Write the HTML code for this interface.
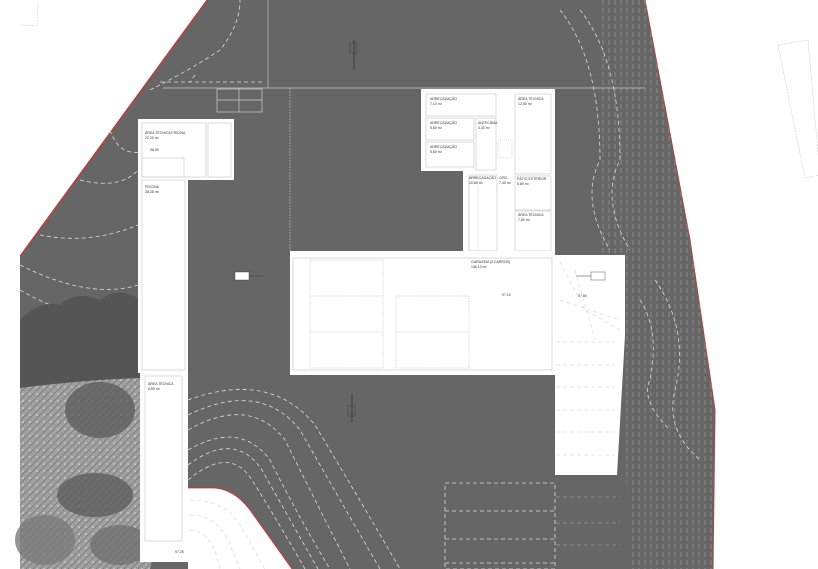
<!DOCTYPE html>
<html><head><meta charset="utf-8"><style>
html,body{margin:0;padding:0;background:#fff;width:818px;height:569px;overflow:hidden}
svg{display:block}
text{font-family:"Liberation Sans",sans-serif;font-size:3.5px;fill:#333}
.w{fill:#fff}
.c{fill:none;stroke:#ddd;stroke-width:0.8;stroke-dasharray:4 3}
.r{fill:none;stroke:#ccc;stroke-width:0.7}
</style></head><body>
<svg width="818" height="569" viewBox="0 0 818 569" xmlns="http://www.w3.org/2000/svg">
<defs>
<pattern id="vd" width="6" height="8" patternUnits="userSpaceOnUse">
<rect width="6" height="8" fill="#666"/><line x1="3" y1="0" x2="3" y2="5" stroke="#b5b5b5" stroke-width="0.45"/>
</pattern>
<pattern id="tr" width="7" height="7" patternUnits="userSpaceOnUse">
<rect width="7" height="7" fill="#a0a0a0"/><path d="M0 7L7 0" stroke="#777" stroke-width="0.8"/><circle cx="2" cy="2" r="1" fill="#c4c4c4"/>
</pattern>
</defs>
<polygon points="207,0 645,0 690,240 715,410 713,569 20,569 20,256" fill="#666"/>
<polyline points="207,0 20,256" stroke="#e22" stroke-width="1" fill="none"/>
<polyline points="645,0 690,240 715,410 713,569" stroke="#e22" stroke-width="1" fill="none"/>
<polygon points="556,0 645,0 690,240 715,410 713,569 632,569 620,380 625,255 556,255" fill="url(#vd)"/>
<polygon points="556,0 600,0 600,255 556,255" fill="#666"/>
<path d="M560 10 Q600 60 600 160 Q580 200 610 250" class="c"/>
<path d="M580 10 Q620 60 620 160 Q600 200 630 250" class="c"/>
<path d="M640 300 Q660 330 650 380 Q640 400 670 430" class="c"/>
<path d="M655 280 Q690 330 675 390 Q665 430 700 460" class="c"/>
<polygon points="778,45 808,40 820,175 805,178" fill="none" stroke="#ccc" stroke-width="0.6" stroke-dasharray="2 1"/>
<path d="M20 25 L37 26 L38 3" fill="none" stroke="#ccc" stroke-width="0.6" stroke-dasharray="2 1"/>
<path d="M150 90 Q190 70 220 50 Q240 25 240 0" class="c"/>
<path d="M110 130 Q120 160 150 150" class="c"/>
<path d="M80 180 Q120 190 138 170" class="c"/>
<path d="M40 235 Q90 245 138 225" class="c"/>
<path d="M20 265 Q90 300 138 285" class="c"/>
<path d="M20 290 Q90 330 138 310" class="c"/>
<path d="M20 320 Q90 350 138 335" class="c"/>
<path d="M160 82 L262 82 M195 75 L190 82" class="c"/>
<path d="M188 450 Q240 420 270 460 Q300 520 330 569" class="c"/>
<path d="M188 465 Q235 430 262 470 Q290 520 318 569" class="c"/>
<path d="M188 480 Q230 445 252 480 Q280 525 305 569" class="c"/>
<path d="M188 430 Q250 395 285 440 Q320 510 350 569" class="c"/>
<path d="M188 415 Q260 380 300 430 Q340 500 380 569" class="c"/>
<path d="M188 400 Q270 370 315 425 Q360 500 400 569" class="c"/>
<line x1="163" y1="88" x2="645" y2="88" stroke="#ccc" stroke-width="0.8"/>
<line x1="268" y1="0" x2="268" y2="88" stroke="#bbb" stroke-width="0.7"/>
<line x1="290" y1="88" x2="290" y2="251" stroke="#bbb" stroke-width="0.7" stroke-dasharray="2 1"/>
<rect x="217" y="89" width="45" height="23" class="r"/>
<line x1="217" y1="100" x2="262" y2="100" class="r"/><line x1="239" y1="89" x2="239" y2="112" class="r"/>
<path d="M20 320 Q40 300 60 305 Q75 290 100 300 Q120 285 140 300 L140 569 L20 569 Z" fill="#555"/>
<path d="M20 388 Q80 380 140 378 L150 400 Q160 440 150 480 Q165 520 150 569 L20 569 Z" fill="url(#tr)"/>
<ellipse cx="100" cy="410" rx="35" ry="28" fill="#5e5e5e" opacity="0.8"/>
<ellipse cx="95" cy="495" rx="38" ry="22" fill="#5e5e5e" opacity="0.8"/>
<ellipse cx="45" cy="540" rx="30" ry="25" fill="#7a7a7a" opacity="0.8"/>
<ellipse cx="120" cy="545" rx="30" ry="20" fill="#707070" opacity="0.8"/>
<path d="M188 488 L215 488 Q235 490 250 510 L292 569 L188 569 Z" class="w"/>
<path d="M188 488 L215 488 Q235 490 250 510 L292 569" stroke="#e22" stroke-width="0.8" fill="none"/>
<path d="M190 500 Q225 500 240 525 L265 569" class="c"/>
<path d="M190 515 Q215 515 228 540 L240 569" class="c"/>
<path d="M190 530 Q205 530 215 550 L220 569" class="c"/>
<rect x="138" y="119" width="96" height="61" class="w"/>
<rect x="138" y="180" width="50" height="193" class="w"/>
<rect x="140" y="373" width="48" height="189" class="w"/>
<rect x="142" y="123" width="64" height="54" class="r"/>
<rect x="208" y="123" width="23" height="54" class="r"/>
<rect x="142" y="158" width="42" height="19" class="r"/>
<rect x="142" y="180" width="43" height="190" class="r"/>
<rect x="145" y="376" width="37" height="165" class="r"/>
<text x="145" y="134">ÁREA TÉCNICA PISCINA</text><text x="145" y="139">22,20 m²</text>
<text x="150" y="151">96.90</text>
<text x="145" y="188">PISCINA</text><text x="145" y="193">38,28 m²</text>
<text x="148" y="385">ÁREA TÉCNICA</text><text x="148" y="390">6,50 m²</text>
<text x="175" y="553">97.25</text>
<rect x="421" y="89" width="134" height="82" class="w"/>
<rect x="463" y="89" width="92" height="162" class="w"/>
<rect x="426" y="94" width="70" height="22" class="r"/>
<rect x="426" y="118" width="48" height="22" class="r"/>
<rect x="426" y="142" width="48" height="25" class="r"/>
<rect x="476" y="118" width="20" height="52" class="r"/>
<rect x="515" y="94" width="36" height="80" class="r"/>
<rect x="515" y="176" width="36" height="34" class="r"/>
<rect x="515" y="211" width="36" height="40" class="r"/>
<rect x="469" y="175" width="28" height="76" class="r"/>
<rect x="469" y="178" width="9" height="73" fill="none" stroke="#aaa" stroke-width="0.4" stroke-dasharray="1 1"/>
<rect x="498" y="140" width="14" height="18" fill="none" stroke="#aaa" stroke-width="0.4" stroke-dasharray="1 1"/>
<text x="430" y="100">ARRECADAÇÃO</text><text x="430" y="105">7,10 m²</text>
<text x="430" y="124">ARRECADAÇÃO</text><text x="430" y="129">5,80 m²</text>
<text x="430" y="148">ARRECADAÇÃO</text><text x="430" y="153">5,80 m²</text>
<text x="478" y="124">ANTECÂMA</text><text x="478" y="129">4,30 m²</text>
<text x="518" y="100">ÁREA TÉCNICA</text><text x="518" y="105">12,80 m²</text>
<text x="517" y="180">PÁTIO EXTERIOR</text><text x="517" y="185">5,80 m²</text>
<text x="518" y="216">ÁREA TÉCNICA</text><text x="518" y="221">7,80 m²</text>
<text x="469" y="179">ARRECADAÇÃO</text><text x="469" y="184">10,80 m²</text>
<text x="499" y="179">CIRC.</text><text x="499" y="184">7,40 m²</text>
<rect x="290" y="251" width="265" height="124" class="w"/>
<rect x="293" y="258" width="259" height="112" class="r"/>
<g fill="none" stroke="#bbb" stroke-width="0.5" stroke-dasharray="1.5 1">
<rect x="310" y="260" width="73" height="108"/><line x1="310" y1="296" x2="383" y2="296"/><line x1="310" y1="332" x2="383" y2="332"/>
<rect x="396" y="296" width="73" height="72"/><line x1="396" y1="332" x2="469" y2="332"/>
</g>
<text x="471" y="263">GARAGEM (3 CARROS)</text><text x="471" y="268">136,10 m²</text>
<text x="502" y="296">97.10</text>
<polygon points="555,255 625,255 625,335 617,475 555,475" class="w"/>
<path d="M560 262 L585 310 L620 330 M575 270 L595 340 M560 300 L620 320" class="c" stroke="#ccc"/>
<g class="c" stroke="#bbb">
<line x1="556" y1="342" x2="615" y2="342"/><line x1="556" y1="365" x2="615" y2="365"/><line x1="556" y1="387" x2="615" y2="387"/>
<line x1="556" y1="410" x2="615" y2="410"/><line x1="556" y1="432" x2="615" y2="432"/><line x1="556" y1="455" x2="615" y2="455"/>
</g>
<text x="578" y="297">97.80</text>
<g class="c" stroke="#ccc">
<rect x="445" y="483" width="110" height="86"/>
<line x1="445" y1="511" x2="555" y2="511"/><line x1="445" y1="539" x2="555" y2="539"/><line x1="445" y1="563" x2="555" y2="563"/>
<line x1="556" y1="497" x2="620" y2="497"/><line x1="556" y1="523" x2="620" y2="523"/><line x1="556" y1="545" x2="620" y2="545"/>
</g>
<rect x="556" y="476" width="75" height="93" fill="#666" opacity="0.6"/>
<line x1="354" y1="40" x2="354" y2="70" stroke="#333" stroke-width="0.8"/><rect x="350" y="43" width="7" height="10" fill="none" stroke="#333" stroke-width="0.4"/>
<line x1="352" y1="394" x2="352" y2="422" stroke="#333" stroke-width="0.8"/><rect x="348" y="406" width="7" height="10" fill="none" stroke="#333" stroke-width="0.4"/>
<rect x="235" y="272" width="14" height="8" fill="#fff" stroke="#333" stroke-width="0.4"/><line x1="249" y1="276" x2="263" y2="276" stroke="#333" stroke-width="0.5"/>
<rect x="591" y="272" width="14" height="8" fill="#fff" stroke="#333" stroke-width="0.4"/><line x1="576" y1="276" x2="591" y2="276" stroke="#333" stroke-width="0.5"/>
</svg>
</body></html>
